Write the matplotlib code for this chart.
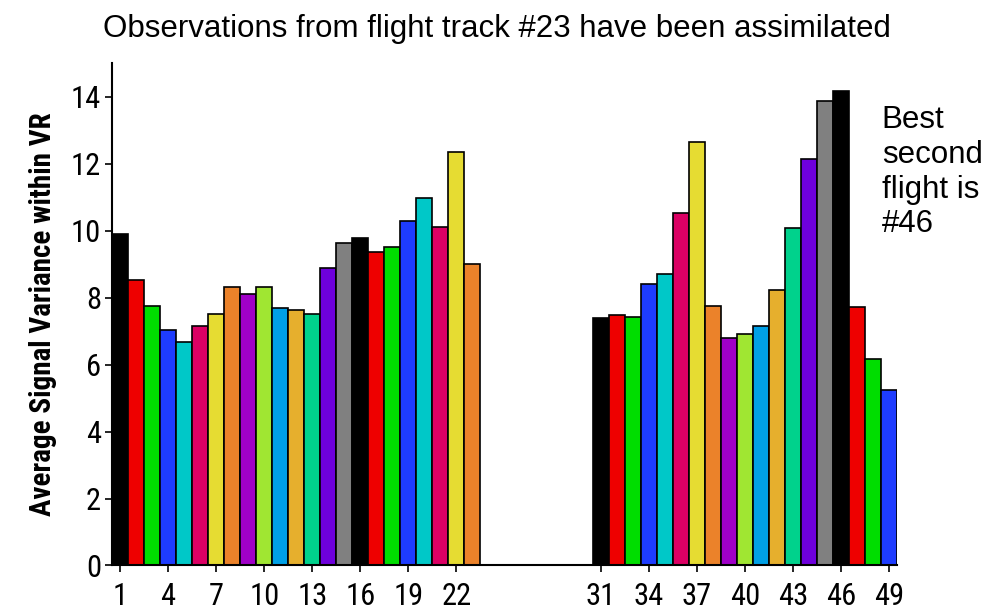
import numpy as np
import matplotlib
matplotlib.use("Agg")
import matplotlib.pyplot as plt

# flight numbers and average signal variance
flights_a = list(range(1, 24))
variance_a = [9.9, 8.52, 7.75, 7.03, 6.66, 7.16, 7.5, 8.33, 8.1, 8.33, 7.68, 7.63,
              7.5, 8.87, 9.64, 9.77, 9.35, 9.52, 10.3, 10.97, 10.12, 12.34, 9.0]
flights_b = list(range(31, 50))
variance_b = [7.4, 7.49, 7.43, 8.4, 8.7, 10.53, 12.64, 7.75, 6.79, 6.91, 7.14,
              8.22, 10.07, 12.15, 13.87, 14.17, 7.73, 6.18, 5.24]
xticks = [1, 4, 7, 10, 13, 16, 19, 22, 31, 34, 37, 40, 43, 46, 49]

palette = ["#000000", "#ee0000", "#00dd00", "#1e3cff", "#00c8c8", "#dc0064",
           "#e6dc32", "#eb822a", "#a000c8", "#a0e632", "#00a0e6", "#e6af2d",
           "#00d28c", "#6e00dc", "#808080"]

flights = flights_a + flights_b
variance = variance_a + variance_b
colors = [palette[(f - 1) % 15] for f in flights]

narrow = ["Roboto Condensed", "Archivo Narrow", "PT Sans Narrow", "DejaVu Sans"]
reg = ["Liberation Sans", "DejaVu Sans"]

fig = plt.figure(figsize=(9.94, 6.13), dpi=100)
ax = fig.add_axes([0.1127, 0.0775, 0.7897, 0.8195])

ax.bar(flights, variance, width=1.0, color=colors, edgecolor="black", linewidth=1.2)

ax.set_xlim(0.5, 49.5)
ax.set_ylim(0, 15)
ax.set_xticks(xticks)
ax.set_yticks(range(0, 15, 2))
ax.spines["top"].set_visible(False)
ax.spines["right"].set_visible(False)
ax.spines["left"].set_linewidth(1.5)
ax.spines["bottom"].set_linewidth(1.5)
ax.tick_params(direction="out", length=5, width=1.2, pad=3)
ax.tick_params(axis="x", pad=7)
for lab in ax.get_xticklabels() + ax.get_yticklabels():
    lab.set_family(narrow)
    lab.set_fontsize(22)

ax.set_ylabel("Average Signal Variance within VR", family=narrow, fontsize=21,
              fontweight="bold", labelpad=10)

fig.text(0.5, 0.953, "Observations from flight track #23 have been assimilated",
         ha="center", va="center", family=reg, fontsize=22.5)
fig.text(0.887, 0.828, "Best\nsecond\nflight is\n#46", ha="left", va="top",
         family=reg, fontsize=22.5, linespacing=1.2)

fig.savefig("out.png", dpi=100)
